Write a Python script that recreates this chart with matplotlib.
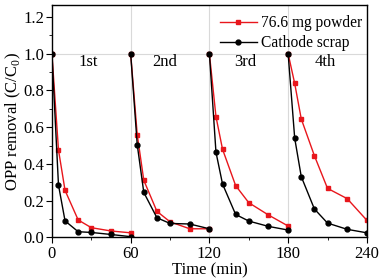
import matplotlib
matplotlib.use("Agg")
import matplotlib.pyplot as plt
from matplotlib.ticker import MultipleLocator

plt.rcParams['font.family'] = ['Liberation Serif', 'DejaVu Serif']
plt.rcParams['mathtext.fontset'] = 'custom'
plt.rcParams['mathtext.rm'] = 'Liberation Serif'

cycle_labels = ["1st", "2nd", "3rd", "4th"]
cycle_starts = [0, 60, 120, 180]
rel_times = [0, 5, 10, 20, 30, 45, 60]
powder = [
    [1.0, 0.476, 0.256, 0.095, 0.053, 0.035, 0.025],
    [1.0, 0.56, 0.311, 0.142, 0.085, 0.047, 0.047],
    [1.0, 0.658, 0.48, 0.282, 0.189, 0.122, 0.062],
    [1.0, 0.838, 0.645, 0.445, 0.267, 0.211, 0.093],
]
scrap = [
    [1.0, 0.285, 0.09, 0.031, 0.027, 0.016, 0.004],
    [1.0, 0.505, 0.245, 0.107, 0.076, 0.073, 0.047],
    [1.0, 0.464, 0.291, 0.125, 0.089, 0.06, 0.04],
    [1.0, 0.54, 0.331, 0.155, 0.078, 0.044, 0.025],
]
label_x = [28, 86, 147, 208]

fig = plt.figure(figsize=(3.79, 2.78), dpi=100)
ax = fig.add_axes([0.137, 0.146, 0.831, 0.836])

red = '#e8161c'
for s in cycle_starts[1:]:
    ax.axvline(s, color='#d9d9d9', lw=0.8, zorder=0)
ax.axhline(1.0, color='#d9d9d9', lw=0.8, zorder=0)

for i, s in enumerate(cycle_starts):
    t = [s + r for r in rel_times]
    ax.plot(t, powder[i], color=red, marker='s', ms=3.3, lw=1.0,
            label='76.6 mg powder' if i == 0 else None, zorder=2)
    ax.plot(t, scrap[i], color='black', marker='o', ms=3.5, lw=1.0,
            label='Cathode scrap' if i == 0 else None, zorder=3)
    ax.text(label_x[i], 0.955, cycle_labels[i], ha='center', va='center', fontsize=12)

ax.set_xlim(0, 240)
ax.set_ylim(0, 1.265)
ax.set_xticks([0, 60, 120, 180, 240])
ax.xaxis.set_minor_locator(MultipleLocator(30))
ax.set_yticks([0.0, 0.2, 0.4, 0.6, 0.8, 1.0, 1.2])
ax.yaxis.set_minor_locator(MultipleLocator(0.1))
ax.set_yticklabels(['0.0', '0.2', '0.4', '0.6', '0.8', '1.0', '1.2'])
ax.tick_params(axis='both', which='major', direction='out', length=4, labelsize=12, pad=1.5)
ax.tick_params(axis='x', which='major', pad=2.5)
ax.tick_params(axis='both', which='minor', direction='out', length=2)
ax.set_xlabel('Time (min)', fontsize=12, labelpad=0)
ax.set_ylabel('OPP removal (C/C$_0$)', fontsize=12, labelpad=0)
for sp in ax.spines.values():
    sp.set_linewidth(1.0)

ax.legend(loc='upper right', bbox_to_anchor=(1.0, 0.975), frameon=False, fontsize=11.2,
          handlelength=2.4, handletextpad=0.25, borderaxespad=0.1, labelspacing=0.25,
          borderpad=0.2)

fig.savefig('out.png', dpi=100)
